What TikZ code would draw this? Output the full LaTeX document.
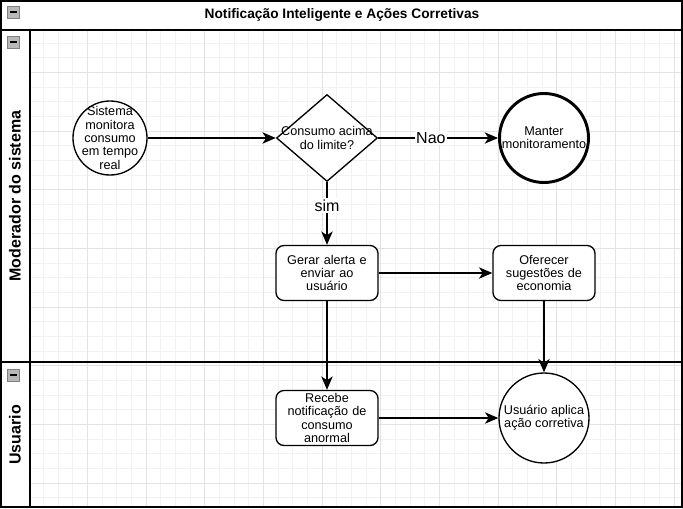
\documentclass[tikz,border=0pt]{standalone}
\usepackage{fontspec}
\setmainfont{Liberation Sans}
\usetikzlibrary{shapes.geometric,arrows.meta}

\begin{document}
\begin{tikzpicture}[
  x=0.75pt, y=-0.75pt,
  minorgrid/.style={draw=black!5, line width=0.6pt},
  majorgrid/.style={draw=black!11, line width=0.6pt},
  frame/.style={draw=black, line width=1.5pt},
  collapse/.style={draw=black!50, fill=black!28, line width=0.6pt},
  txt/.style={font=\fontsize{9.5}{10}\selectfont, align=center},
  flow/.style={draw=black, line width=1.1pt, -{Stealth[length=10pt,width=8.5pt,inset=2.8pt]}},
  process/.style={draw=black, line width=1pt, rounded corners=6pt, fill=white,
    minimum width=76.5pt, text width=76.5pt, minimum height=41.25pt, inner sep=0pt, txt},
  event/.style={draw=black, line width=1pt, circle, fill=white, inner sep=0pt, minimum size=#1},
  decision/.style={draw=black, line width=1pt, diamond, fill=white, inner sep=0pt,
    minimum width=75.75pt, minimum height=65.25pt},
  lanetitle/.style={font=\bfseries\fontsize{12}{14}\selectfont, rotate=90},
  edgelabel/.style={font=\fontsize{12}{14}\selectfont, fill=white, inner sep=1pt},
]
  \useasboundingbox (0,0) rectangle (683,508);
  \fill[white] (0,0) rectangle (683,508);

  % background grid
  \foreach \k in {-3,...,40}
    \draw[minorgrid] ({87.3+14.67*\k},31) -- (87.3+14.67*\k,507);
  \foreach \k in {-2,...,29}
    \draw[minorgrid] (31,{72.3+14.67*\k}) -- (682,{72.3+14.67*\k});
  \foreach \k in {0,4,...,40}
    \draw[majorgrid] ({87.3+14.67*\k},31) -- (87.3+14.67*\k,507);
  \foreach \k in {0,4,...,28}
    \draw[majorgrid] (31,{72.3+14.67*\k}) -- (682,{72.3+14.67*\k});

  % pool and lanes
  \draw[frame] (1,1) rectangle (682,507);
  \draw[frame] (1,30) -- (682,30);
  \draw[frame] (30,30) -- (30,507);
  \draw[frame] (1,362) -- (682,362);
  \foreach \iy in {6,36,369}{
    \draw[collapse] (7,\iy) rectangle ++(12,12);
    \draw[line width=1.2pt] (9.5,{\iy+6}) -- ++(7,0);
  }
  \node[font=\bfseries\fontsize{10.3}{12}\selectfont] (pooltitle) at (342,15) {Notificação Inteligente e Ações Corretivas};
  \node[lanetitle] (lanemod) at (15,196) {Moderador do sistema};
  \node[lanetitle] (laneuser) at (15,435) {Usuario};

  % flow nodes
  \node[event=55.5pt, label={[txt]center:Sistema\\monitora\\consumo\\em tempo\\real}] (monitor) at (110,138) {};
  \node[decision, label={[txt]center:Consumo acima\\do limite?}] (check) at (327,138) {};
  \node[event=66.75pt, line width=2.2pt, label={[txt]center:Manter\\monitoramento}] (keep) at (544,138) {};
  \node[process] (alert) at (327,273) {Gerar alerta e\\enviar ao\\usuário};
  \node[process] (tips) at (544,273) {Oferecer\\sugestões de\\economia};
  \node[process] (notify) at (327,418) {Recebe\\notificação de\\consumo\\anormal};
  \node[event=67.5pt, label={[txt]center:Usuário aplica\\ação corretiva}] (apply) at (544,418) {};

  % connectors
  \draw[flow] (monitor) -- (check);
  \draw[flow] (check) -- node[edgelabel, pos=0.44] {Nao} (keep);
  \draw[flow] (check) -- node[edgelabel, pos=0.37] {sim} (alert);
  \draw[flow] (alert) -- (tips);
  \draw[flow] (alert) -- (notify);
  \draw[flow] (tips) -- (apply);
  \draw[flow] (notify) -- (apply);
\end{tikzpicture}
\end{document}
